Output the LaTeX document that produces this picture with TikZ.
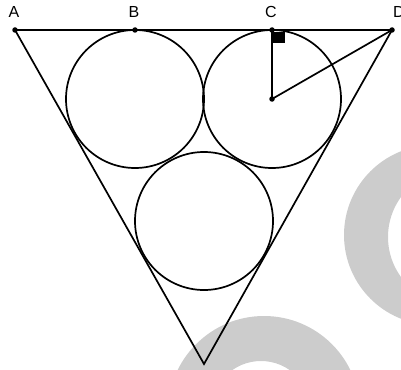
\documentclass[tikz,border=0pt]{standalone}
\usepackage{fontspec}
\setmainfont{Liberation Sans}
\begin{document}
\begin{tikzpicture}[x=1pt,y=-1pt,
  edge/.style={line width=1.7pt,black},
  dot/.style={circle,fill=black,inner sep=0pt,minimum size=5.5pt},
  lbl/.style={font=\fontsize{16}{16}\selectfont,inner sep=0pt},
  wm/.style={fill=black!20,draw=none}]
\useasboundingbox (0,0) rectangle (401,369);
\clip (0,0) rectangle (401,369);
% watermark shapes
\fill[wm,even odd rule] (434,235) circle (90) (456,237) circle (68);
\fill[wm,even odd rule] (264,412) circle (96) (261,411) circle (50);
% points
\coordinate (A) at (15,30);
\coordinate (B) at (135,30);
\coordinate (C) at (272,30);
\coordinate (D) at (392,30);
\coordinate (E) at (204,364);
\coordinate (O) at (272,99);
\coordinate (L) at (135,99);
\coordinate (M) at (204,221);
% circles
\draw[edge] (L) circle (69);
\draw[edge] (O) circle (69);
\draw[edge] (M) circle (69);
% triangle
\draw[edge,line join=miter] (A) -- (D) -- (E) -- cycle;
% radius and segment to D
\draw[edge] (C) -- (O) -- (D);
% right angle marker
\fill[black] ([xshift=1pt,yshift=-2pt]C) rectangle ++(12,11);
% dots
\foreach \p in {A,B,C,D,O} \node[dot] at (\p) {};
% labels
\node[lbl] (lA) at (14,12) {A};
\node[lbl] (lB) at (134,12) {B};
\node[lbl] (lC) at (271,12) {C};
\node[lbl] (lD) at (399,12) {D};
\end{tikzpicture}
\end{document}
